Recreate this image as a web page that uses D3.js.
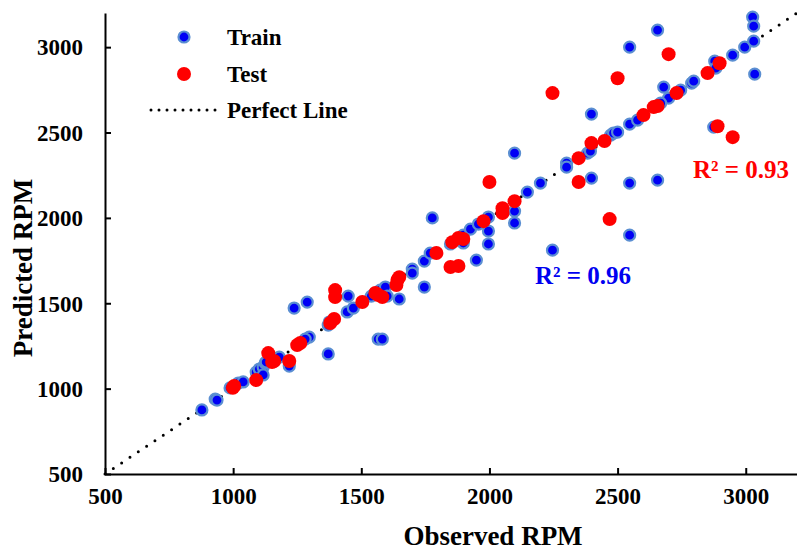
<!DOCTYPE html>
<html>
<head>
<meta charset="utf-8">
<script src="https://cdn.jsdelivr.net/npm/d3@7"></script>
<style>
	body { margin: 0; background: #fff; }
	text { font-family: "Liberation Serif", "Times New Roman", serif; font-weight: bold; }
</style>
</head>
<body>
<div id="main_node"></div>
<script>
// observed / predicted RPM
var trainObserved = [878, 930, 937, 988, 1020, 1039, 1090, 1102, 1117, 1125, 1129, 1117, 1180, 1219, 1297, 1281,
	1371, 1371, 1238, 1289, 1375, 1449, 1445, 1469, 1539, 1555, 1574, 1594, 1601, 1648, 1699, 1699, 1746, 1769,
	1746, 1566, 1582, 1777, 1949, 1848, 1898, 1898, 1926, 1957, 1996, 1996, 1996, 2098, 2098, 2098, 2148, 2199,
	2246, 2301, 2301, 2383, 2394, 2398, 2398, 2473, 2484, 2500, 2547, 2578, 2547, 2547, 2547, 2656, 2656, 2680,
	2699, 2668, 2746, 2789, 2797, 2879, 2883, 2875, 2949, 2996, 3027, 3031, 3031, 3035];
var trainPredicted = [875, 939, 933, 1004, 1033, 1039, 1097, 1115, 1126, 1150, 1156, 1080, 1185, 1132, 1302, 1290,
	1372, 1203, 1472, 1507, 1390, 1542, 1449, 1472, 1542, 1560, 1577, 1595, 1542, 1525, 1700, 1677, 1747, 1794,
	1595, 1290, 1290, 2000, 1753, 1847, 1853, 1899, 1934, 1964, 2005, 1923, 1847, 2040, 1970, 2379, 2151, 2204,
	1811, 2321, 2297, 2379, 2391, 2233, 2608, 2485, 2497, 2502, 2549, 2573, 3000, 2204, 1899, 2221, 3100, 2766,
	2701, 2672, 2748, 2789, 2801, 2918, 2877, 2532, 2953, 3000, 3176, 3123, 3035, 2842];

var testObserved = [999, 1004, 1090, 1137, 1152, 1160, 1219, 1250, 1262, 1379, 1394, 1398, 1398, 1504, 1555, 1566,
	1582, 1641, 1648, 1637, 1793, 1855, 1879, 1898, 1848, 1879, 1977, 2000, 2051, 2051, 2098, 2348, 2348, 2398,
	2449, 2469, 2601, 2641, 2656, 2246, 2500, 2699, 2730, 2851, 2898, 2890, 2949];
var testPredicted = [1005, 1015, 1050, 1208, 1156, 1162, 1162, 1255, 1267, 1384, 1408, 1577, 1536, 1507, 1560, 1548,
	1536, 1636, 1653, 1607, 1794, 1858, 1882, 1876, 1712, 1718, 1981, 2210, 2057, 2028, 2098, 2350, 2210, 2438,
	2450, 1993, 2602, 2649, 2655, 2731, 2818, 2959, 2731, 2848, 2906, 2537, 2473];

var tickValues = [500, 1000, 1500, 2000, 2500, 3000];
var axisRange = [500, 3200];
var r2Train = "R\u00B2 = 0.96";
var r2Test = "R\u00B2 = 0.93";

var width = 797,
	height = 551;

var svg = d3.select("#main_node")
	.append("svg")
	.attr("width", width)
	.attr("height", height);

var x = d3.scaleLinear().domain(axisRange).range([105, 797]);
var y = d3.scaleLinear().domain(axisRange).range([474, 13]);

// perfect line
svg.append("line")
	.attr("x1", x(axisRange[0]))
	.attr("y1", y(axisRange[0]))
	.attr("x2", x(axisRange[1]))
	.attr("y2", y(axisRange[1]))
	.attr("stroke", "#000")
	.attr("stroke-width", 3)
	.attr("stroke-linecap", "round")
	.attr("stroke-dasharray", "0,10");

// axes
var fmt = d3.format("d");
var xAxis = svg.append("g")
	.attr("transform", "translate(0,474)")
	.call(d3.axisBottom(x).tickValues(tickValues).tickFormat(fmt).tickSizeInner(-6).tickSizeOuter(0).tickPadding(14));
var yAxis = svg.append("g")
	.attr("transform", "translate(105,0)")
	.call(d3.axisLeft(y).tickValues(tickValues).tickFormat(fmt).tickSizeInner(-6).tickSizeOuter(0).tickPadding(22));

[xAxis, yAxis].forEach(function (a) {
	a.select(".domain").attr("stroke-width", 2);
	a.selectAll(".tick line").attr("stroke-width", 2);
	a.selectAll(".tick text")
		.attr("font-family", "Liberation Serif")
		.attr("font-weight", "bold")
		.attr("font-size", 23)
		.attr("fill", "#000");
});
yAxis.selectAll(".tick text").attr("dy", "0.34em");

// points
var trainData = trainObserved.map(function (d, i) {
	return { o: d, p: trainPredicted[i] };
});
var testData = testObserved.map(function (d, i) {
	return { o: d, p: testPredicted[i] };
});

svg.append("g")
	.selectAll("circle")
	.data(trainData)
	.enter()
	.append("circle")
	.attr("cx", function (d) { return x(d.o); })
	.attr("cy", function (d) { return y(d.p); })
	.attr("r", 5.5)
	.attr("fill", "#0000f5")
	.attr("stroke", "#5b8fd2")
	.attr("stroke-width", 2.2);

svg.append("g")
	.selectAll("circle")
	.data(testData)
	.enter()
	.append("circle")
	.attr("cx", function (d) { return x(d.o); })
	.attr("cy", function (d) { return y(d.p); })
	.attr("r", 7)
	.attr("fill", "#ff0000");

// legend
svg.append("circle").attr("cx", 184).attr("cy", 37).attr("r", 5.5)
	.attr("fill", "#0000f5").attr("stroke", "#5b8fd2").attr("stroke-width", 2.2);
svg.append("circle").attr("cx", 184).attr("cy", 74).attr("r", 7).attr("fill", "#ff0000");
svg.append("line")
	.attr("x1", 151).attr("y1", 110).attr("x2", 217).attr("y2", 110)
	.attr("stroke", "#000").attr("stroke-width", 3)
	.attr("stroke-linecap", "round").attr("stroke-dasharray", "0,8");

var legendText = [["Train", 45], ["Test", 82], ["Perfect Line", 118]];
legendText.forEach(function (t) {
	svg.append("text")
		.attr("x", 227)
		.attr("y", t[1])
		.attr("font-size", 23)
		.text(t[0]);
});

// R squared labels
svg.append("text").attr("x", 535).attr("y", 284).attr("font-size", 25)
	.attr("fill", "#0000f0").text(r2Train);
svg.append("text").attr("x", 693).attr("y", 178).attr("font-size", 25)
	.attr("fill", "#ff0000").text(r2Test);

// axis titles
svg.append("text")
	.attr("x", 493)
	.attr("y", 545)
	.attr("text-anchor", "middle")
	.attr("font-size", 27)
	.text("Observed RPM");
svg.append("text")
	.attr("transform", "translate(32,268) rotate(-90)")
	.attr("text-anchor", "middle")
	.attr("font-size", 27)
	.text("Predicted RPM");
</script>
</body>
</html>
